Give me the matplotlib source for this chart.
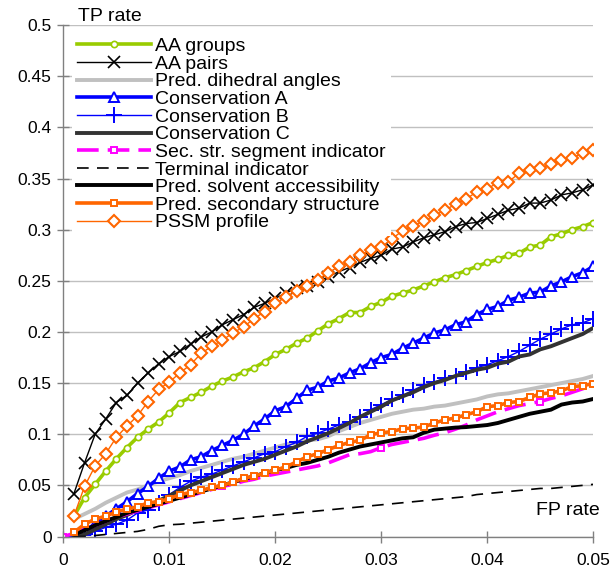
import matplotlib
matplotlib.use("Agg")
import matplotlib.pyplot as plt
import numpy as np

plt.rcParams['font.family'] = ['Liberation Sans', 'DejaVu Sans']

# FP rate grid (one point per 0.001)
fp = [0.001, 0.002, 0.003, 0.004, 0.005, 0.006, 0.007, 0.008, 0.009, 0.010,
      0.011, 0.012, 0.013, 0.014, 0.015, 0.016, 0.017, 0.018, 0.019, 0.020,
      0.021, 0.022, 0.023, 0.024, 0.025, 0.026, 0.027, 0.028, 0.029, 0.030,
      0.031, 0.032, 0.033, 0.034, 0.035, 0.036, 0.037, 0.038, 0.039, 0.040,
      0.041, 0.042, 0.043, 0.044, 0.045, 0.046, 0.047, 0.048, 0.049, 0.050]
fp_seg = [0.000] + fp   # segment indicator series also has the origin point

aa_groups = [0.020, 0.038, 0.051, 0.064, 0.076, 0.087, 0.097, 0.105, 0.112, 0.121,
             0.131, 0.136, 0.141, 0.147, 0.152, 0.156, 0.161, 0.165, 0.171, 0.178,
             0.183, 0.189, 0.194, 0.201, 0.208, 0.213, 0.219, 0.219, 0.225, 0.229,
             0.235, 0.238, 0.241, 0.245, 0.249, 0.253, 0.256, 0.260, 0.264, 0.268,
             0.271, 0.275, 0.277, 0.283, 0.285, 0.293, 0.296, 0.300, 0.303, 0.307]
aa_pairs = [0.042, 0.072, 0.100, 0.115, 0.131, 0.138, 0.150, 0.160, 0.169, 0.176,
            0.181, 0.188, 0.195, 0.200, 0.207, 0.212, 0.217, 0.224, 0.228, 0.233,
            0.238, 0.243, 0.245, 0.249, 0.254, 0.259, 0.263, 0.268, 0.272, 0.275,
            0.281, 0.283, 0.288, 0.292, 0.295, 0.298, 0.303, 0.306, 0.307, 0.311,
            0.315, 0.319, 0.321, 0.326, 0.326, 0.329, 0.334, 0.336, 0.339, 0.344]
dihedral = [0.017, 0.022, 0.027, 0.033, 0.038, 0.043, 0.046, 0.050, 0.054, 0.057,
            0.060, 0.064, 0.067, 0.070, 0.073, 0.076, 0.078, 0.081, 0.084, 0.087,
            0.090, 0.092, 0.094, 0.095, 0.098, 0.103, 0.107, 0.111, 0.114, 0.117,
            0.120, 0.122, 0.124, 0.125, 0.127, 0.128, 0.130, 0.132, 0.134, 0.137,
            0.139, 0.140, 0.142, 0.144, 0.146, 0.148, 0.150, 0.152, 0.154, 0.157]
cons_a = [0.002, 0.006, 0.012, 0.020, 0.027, 0.034, 0.042, 0.049, 0.057, 0.064,
          0.068, 0.075, 0.078, 0.084, 0.089, 0.094, 0.100, 0.108, 0.115, 0.123,
          0.127, 0.135, 0.143, 0.146, 0.152, 0.155, 0.160, 0.164, 0.170, 0.175,
          0.178, 0.184, 0.189, 0.194, 0.199, 0.202, 0.207, 0.210, 0.217, 0.222,
          0.225, 0.231, 0.234, 0.238, 0.239, 0.245, 0.249, 0.254, 0.258, 0.264]
cons_b = [0.000, 0.002, 0.005, 0.009, 0.012, 0.016, 0.023, 0.026, 0.033, 0.041,
          0.048, 0.054, 0.058, 0.061, 0.065, 0.069, 0.073, 0.077, 0.081, 0.083,
          0.088, 0.092, 0.098, 0.101, 0.105, 0.109, 0.112, 0.117, 0.124, 0.129,
          0.134, 0.138, 0.143, 0.148, 0.151, 0.155, 0.157, 0.161, 0.165, 0.168,
          0.172, 0.176, 0.181, 0.187, 0.193, 0.198, 0.203, 0.207, 0.209, 0.213]
cons_c = [0.000, 0.002, 0.007, 0.012, 0.017, 0.021, 0.026, 0.030, 0.035, 0.040,
          0.045, 0.050, 0.054, 0.058, 0.062, 0.066, 0.070, 0.073, 0.076, 0.080,
          0.084, 0.088, 0.093, 0.097, 0.101, 0.106, 0.111, 0.117, 0.122, 0.127,
          0.133, 0.137, 0.141, 0.146, 0.150, 0.153, 0.157, 0.160, 0.163, 0.165,
          0.169, 0.171, 0.176, 0.178, 0.183, 0.186, 0.190, 0.194, 0.198, 0.204]
seg_ind = [0.000,
           0.003, 0.007, 0.011, 0.015, 0.019, 0.022, 0.025, 0.028, 0.031, 0.034,
           0.037, 0.040, 0.043, 0.046, 0.049, 0.051, 0.054, 0.056, 0.059, 0.061,
           0.063, 0.065, 0.067, 0.069, 0.072, 0.076, 0.080, 0.081, 0.083, 0.087,
           0.090, 0.092, 0.094, 0.096, 0.099, 0.1015, 0.105, 0.109, 0.114, 0.118,
           0.122, 0.125, 0.128, 0.130, 0.132, 0.135, 0.1375, 0.141, 0.1445, 0.148]
terminal = [0.000, 0.000, 0.001, 0.002, 0.003, 0.004, 0.005, 0.007, 0.010, 0.0115,
            0.012, 0.013, 0.014, 0.015, 0.016, 0.017, 0.018, 0.019, 0.020, 0.021,
            0.022, 0.023, 0.024, 0.025, 0.026, 0.027, 0.028, 0.029, 0.030, 0.031,
            0.032, 0.033, 0.034, 0.035, 0.036, 0.037, 0.038, 0.039, 0.041, 0.042,
            0.043, 0.044, 0.045, 0.046, 0.047, 0.047, 0.048, 0.049, 0.050, 0.051]
solvent = [0.002, 0.006, 0.011, 0.015, 0.019, 0.023, 0.026, 0.029, 0.032, 0.035,
           0.038, 0.041, 0.044, 0.047, 0.050, 0.053, 0.056, 0.059, 0.062, 0.065,
           0.067, 0.070, 0.072, 0.075, 0.078, 0.082, 0.085, 0.088, 0.090, 0.092,
           0.094, 0.096, 0.097, 0.1015, 0.1045, 0.1055, 0.1065, 0.107, 0.108, 0.109,
           0.111, 0.114, 0.117, 0.120, 0.122, 0.124, 0.129, 0.131, 0.132, 0.1345]
sec_struct = [0.004, 0.012, 0.017, 0.020, 0.024, 0.027, 0.029, 0.033, 0.034, 0.037,
              0.041, 0.043, 0.045, 0.048, 0.050, 0.053, 0.057, 0.059, 0.062, 0.065,
              0.068, 0.073, 0.078, 0.081, 0.085, 0.089, 0.092, 0.094, 0.0995, 0.1015,
              0.1025, 0.1055, 0.106, 0.107, 0.111, 0.114, 0.116, 0.119, 0.122, 0.127,
              0.128, 0.131, 0.132, 0.136, 0.1395, 0.1405, 0.1425, 0.1465, 0.1475, 0.1495]
pssm = [0.020, 0.049, 0.069, 0.081, 0.097, 0.108, 0.118, 0.132, 0.144, 0.151,
        0.160, 0.168, 0.179, 0.186, 0.192, 0.199, 0.205, 0.213, 0.220, 0.228,
        0.234, 0.240, 0.245, 0.251, 0.258, 0.264, 0.268, 0.275, 0.280, 0.283,
        0.291, 0.299, 0.304, 0.308, 0.314, 0.319, 0.325, 0.330, 0.337, 0.340,
        0.346, 0.347, 0.355, 0.358, 0.360, 0.364, 0.368, 0.370, 0.375, 0.378]

fig = plt.figure(figsize=(6.15, 5.71), dpi=100)
ax = fig.add_axes([0.103, 0.0604, 0.8617, 0.8956])

ax.plot(fp, aa_groups, color='#99CC00', lw=2.6, marker='o', ms=4.5,
        mfc='white', mec='#99CC00', mew=1.2, label='AA groups')
ax.plot(fp, aa_pairs, color='black', lw=1.0, marker='x', ms=9, mew=1.2,
        label='AA pairs')
ax.plot(fp, dihedral, color='#C0C0C0', lw=2.8, label='Pred. dihedral angles')
ax.plot(fp, cons_a, color='#0000FF', lw=2.6, marker='^', ms=6.5,
        mfc='white', mec='#0000FF', mew=1.4, label='Conservation A')
ax.plot(fp, cons_b, color='#0000FF', lw=1.0, marker='+', ms=11, mew=1.4,
        label='Conservation B')
ax.plot(fp, cons_c, color='#333333', lw=2.8, label='Conservation C')
ax.plot(fp_seg, seg_ind, color='#FF00FF', lw=2.6, dashes=(6, 2.5),
        marker='s', ms=5, mfc='white', mec='#FF00FF', mew=1.4,
        markevery=[0, 15, 30, 45], label='Sec. str. segment indicator')
ax.plot(fp, terminal, color='black', lw=1.2, dashes=(7, 5),
        label='Terminal indicator')
ax.plot(fp, solvent, color='black', lw=2.8, label='Pred. solvent accessibility')
ax.plot(fp, sec_struct, color='#FF6600', lw=2.6, marker='s', ms=5,
        mfc='white', mec='#FF6600', mew=1.4, label='Pred. secondary structure')
ax.plot(fp, pssm, color='#FF6600', lw=1.0, marker='D', ms=6.5,
        mfc='white', mec='#FF6600', mew=1.5, label='PSSM profile')

ax.set_xlim(0, 0.05)
ax.set_ylim(0, 0.5)
ax.set_xticks([0, 0.01, 0.02, 0.03, 0.04, 0.05])
ax.set_xticklabels(['0', '0.01', '0.02', '0.03', '0.04', '0.05'])
ax.set_yticks(np.arange(0, 0.51, 0.05))
ax.set_yticklabels(['0', '0.05', '0.1', '0.15', '0.2', '0.25', '0.3',
                    '0.35', '0.4', '0.45', '0.5'])
ax.tick_params(direction='inout', length=9, width=1, color='#808080',
               labelsize=12.5, pad=4)
ax.tick_params(axis='x', pad=7.5)
ax.yaxis.grid(True, color='#C0C0C0', lw=1)
ax.set_axisbelow(True)
for s in ['top', 'right']:
    ax.spines[s].set_visible(False)
for s in ['left', 'bottom']:
    ax.spines[s].set_color('#808080')
    ax.spines[s].set_linewidth(1)

ax.text(0.028, 1.016, 'TP rate', transform=ax.transAxes, fontsize=14,
        va='center', ha='left')
ax.text(1.012, 0.05, 'FP rate', transform=ax.transAxes, fontsize=14,
        va='center', ha='right')

leg = ax.legend(loc='upper left', bbox_to_anchor=(0.016, 0.985),
                borderaxespad=0, borderpad=0.25, fontsize=14,
                handlelength=3.8, handletextpad=0.25, labelspacing=0.0,
                frameon=True, fancybox=False)
leg.get_frame().set_facecolor('white')
leg.get_frame().set_edgecolor('none')
leg.get_frame().set_alpha(1)

fig.savefig('out.png', dpi=100)
